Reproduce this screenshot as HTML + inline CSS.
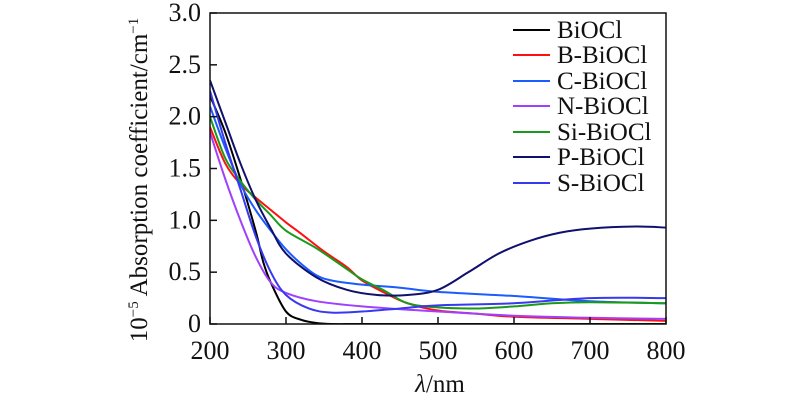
<!DOCTYPE html>
<html><head><meta charset="utf-8"><style>
html,body{margin:0;padding:0;background:#fff;}
svg text{font-family:"Liberation Serif",serif;fill:#111;}
</style></head><body>
<svg id="c" width="800" height="409" xmlns="http://www.w3.org/2000/svg"></svg>
<script>
const xTicks=[200,300,400,500,600,700,800];
const yTicks=[0,0.5,1.0,1.5,2.0,2.5,3.0];
const yTickLabels=["0","0.5","1.0","1.5","2.0","2.5","3.0"];
const seriesNames=["BiOCl","B-BiOCl","C-BiOCl","N-BiOCl","Si-BiOCl","P-BiOCl","S-BiOCl"];
const seriesColors=["#000000","#ff1010","#1a5cff","#a040ff","#1a9a1a","#10106e","#3838f0"];
const wl0=[200,220,240,260,270,280,300,320,340,360,400,500,600,700,800];
const v0=[2.2,1.85,1.4,0.9,0.6,0.4,0.12,0.04,0.01,0,0,0,0,0,0];
const wl1=[200,220,240,260,280,300,320,350,380,400,430,460,500,550,600,700,800];
const v1=[1.9,1.55,1.35,1.22,1.1,0.98,0.87,0.7,0.55,0.42,0.3,0.2,0.13,0.1,0.07,0.05,0.03];
const wl2=[200,220,240,260,280,300,320,340,360,400,450,500,600,700,800];
const v2=[2.1,1.7,1.35,1.1,0.9,0.72,0.58,0.47,0.42,0.38,0.35,0.31,0.27,0.22,0.2];
const wl3=[200,220,240,260,280,300,340,400,500,600,700,800];
const v3=[1.85,1.4,1.0,0.65,0.4,0.3,0.22,0.17,0.12,0.08,0.06,0.05];
const wl4=[200,220,240,260,280,300,340,380,400,430,460,500,550,600,650,700,800];
const v4=[2.0,1.6,1.38,1.2,1.05,0.9,0.73,0.53,0.43,0.32,0.2,0.16,0.15,0.17,0.2,0.21,0.2];
const wl5=[200,220,240,260,280,300,340,380,420,460,500,540,580,620,660,700,760,800];
const v5=[2.35,1.95,1.55,1.2,0.92,0.68,0.45,0.33,0.28,0.28,0.33,0.5,0.68,0.8,0.88,0.92,0.94,0.93];
const wl6=[200,220,240,260,280,300,330,360,400,450,500,600,700,800];
const v6=[2.25,1.75,1.3,0.85,0.5,0.28,0.15,0.11,0.12,0.15,0.18,0.2,0.25,0.25];
const seriesX=[wl0,wl1,wl2,wl3,wl4,wl5,wl6];
const seriesY=[v0,v1,v2,v3,v4,v5,v6];

const L=210,R=666,T=13,B=324;
const sx=w=>L+(w-200)/600*(R-L);
const sy=v=>B-v/3*(B-T);
const svg=document.getElementById('c');
const NS="http://www.w3.org/2000/svg";
function mk(tag,attrs,parent){const e=document.createElementNS(NS,tag);for(const k in attrs)e.setAttribute(k,attrs[k]);(parent||svg).appendChild(e);return e;}

const gS=mk('g',{});


function pathFor(xs,ys){
  const p=xs.map((x,i)=>[sx(x),sy(ys[i])]);
  let d=`M${p[0][0]},${p[0][1]}`;
  for(let i=0;i<p.length-1;i++){
    const p0=p[i-1]||p[i],p1=p[i],p2=p[i+1],p3=p[i+2]||p2;
    const c1=[p1[0]+(p2[0]-p0[0])/6,p1[1]+(p2[1]-p0[1])/6];
    const c2=[p2[0]-(p3[0]-p1[0])/6,p2[1]-(p3[1]-p1[1])/6];
    d+=` C${c1[0]},${c1[1]} ${c2[0]},${c2[1]} ${p2[0]},${p2[1]}`;
  }
  return d;
}
const clip=mk('clipPath',{id:'pc'});mk('rect',{x:L,y:T,width:R-L,height:B-T},clip);
seriesNames.forEach((n,i)=>{
  const e=mk('path',{d:pathFor(seriesX[i],seriesY[i]),fill:'none',stroke:seriesColors[i],'stroke-width':2,'clip-path':'url(#pc)'},gS);
  
  
});

const fr=mk('rect',{x:L,y:T,width:R-L,height:B-T,fill:'none',stroke:'#111','stroke-width':1.5});



xTicks.forEach(t=>{
  const x=sx(t);
  const tk=mk('line',{x1:x,x2:x,y1:B,y2:B-7,stroke:'#111','stroke-width':1.5});
  
  
  const tx=mk('text',{x:x,y:359,'text-anchor':'middle','font-size':26});
  tx.textContent=t;
  
  
});
yTicks.forEach((t,i)=>{
  const y=sy(t);
  const tk=mk('line',{x1:L,x2:L+7,y1:y,y2:y,stroke:'#111','stroke-width':1.5});
  
  
  const tx=mk('text',{x:201,y:y+8,'text-anchor':'end','font-size':26});
  tx.textContent=yTickLabels[i];
  
  
});

const xt=mk('text',{x:440,y:392,'text-anchor':'middle','font-size':25});
xt.innerHTML='<tspan font-style="italic">λ</tspan>/nm';


const yt=mk('text',{x:0,y:0,'text-anchor':'middle','font-size':25,transform:'translate(147,180) rotate(-90)'});
yt.innerHTML='10<tspan dy="-9" font-size="15">−5</tspan><tspan dy="9"> Absorption coefficient/cm</tspan><tspan dy="-9" font-size="15">−1</tspan>';



const rows=[30,55,81,106,132,157,183];
const gL=mk('g',{});


seriesNames.forEach((n,i)=>{
  const ln=mk('line',{x1:513,x2:550,y1:rows[i],y2:rows[i],stroke:seriesColors[i],'stroke-width':2},gL);
  
  
  const tx=mk('text',{x:557,y:rows[i]+8,'font-size':25},gL);
  tx.textContent=n;
  
  
});
</script>
</body></html>
